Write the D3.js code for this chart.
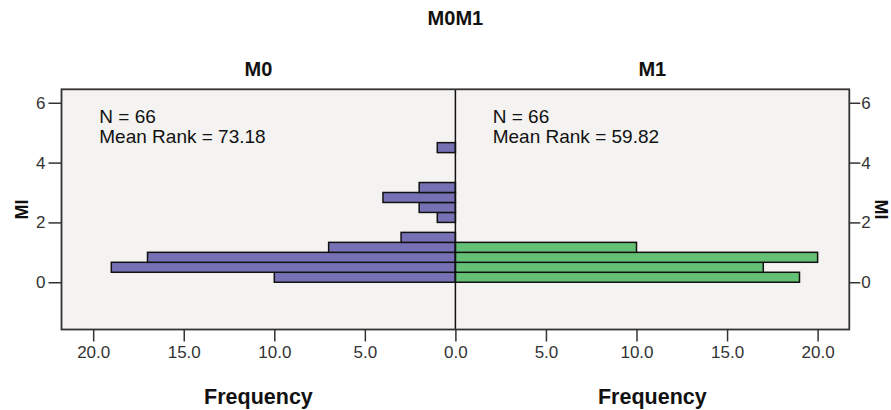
<!DOCTYPE html>
<html>
<head>
<meta charset="utf-8">
<script src="https://cdn.jsdelivr.net/npm/d3@7"></script>
<style>
  html, body { margin: 0; padding: 0; background: #fff; }
  svg { display: block; font-family: "Liberation Sans", Arial, sans-serif; }
</style>
</head>
<body>
<svg id="chart" width="891" height="410"></svg>
<script>
// ---- data ----
const chartTitle = "M0M1";
const panelNames = ["M0", "M1"];
const binWidth = 1 / 3;
const binStarts = [0, 0.3333, 0.6667, 1, 1.3333, 1.6667, 2, 2.3333, 2.6667, 3, 3.3333, 3.6667, 4, 4.3333];
const countsM0 = [10, 19, 17, 7, 3, 0, 1, 2, 4, 2, 0, 0, 0, 1];
const countsM1 = [19, 17, 20, 10, 0, 0, 0, 0, 0, 0, 0, 0, 0, 0];
const nValues = [66, 66];
const meanRanks = ["73.18", "59.82"];
const yTicks = [0, 2, 4, 6];
const xTicks = [0, 5, 10, 15, 20];
const yDomain = [-1.58, 6.45];
const xMax = 21.75;

// ---- layout ----
const L = 61.5, R = 849.3, T = 89.3, B = 329.5, C = (L + R) / 2;
const svg = d3.select("#chart");

const y = d3.scaleLinear().domain(yDomain).range([B, T]);
const xLeft = d3.scaleLinear().domain([0, xMax]).range([C, L]);
const xRight = d3.scaleLinear().domain([0, xMax]).range([C, R]);

// plot background
svg.append("rect").attr("x", L).attr("y", T).attr("width", R - L).attr("height", B - T)
  .attr("fill", "#f4f3f1");

const colors = ["#7670b4", "#63c074"];
const series = [
  { counts: countsM0, x: xLeft, color: colors[0] },
  { counts: countsM1, x: xRight, color: colors[1] }
];

series.forEach(s => {
  const data = binStarts.map((b, i) => ({ b, c: s.counts[i] })).filter(d => d.c > 0);
  svg.append("g").selectAll("rect").data(data).join("rect")
    .attr("x", d => Math.min(s.x(0), s.x(d.c)))
    .attr("width", d => Math.abs(s.x(d.c) - s.x(0)))
    .attr("y", d => y(d.b + binWidth))
    .attr("height", d => y(d.b) - y(d.b + binWidth))
    .attr("fill", s.color)
    .attr("stroke", "#111")
    .attr("stroke-width", 1.5);
});

// center line
svg.append("line").attr("x1", C).attr("x2", C).attr("y1", T).attr("y2", B)
  .attr("stroke", "#111").attr("stroke-width", 1.5);

// frame
svg.append("rect").attr("x", L).attr("y", T).attr("width", R - L).attr("height", B - T)
  .attr("fill", "none").attr("stroke", "#333").attr("stroke-width", 1.8);

// axes
function styleAxis(g) {
  g.select(".domain").remove();
  g.selectAll(".tick line").attr("stroke", "#333").attr("stroke-width", 1.5);
  g.selectAll(".tick text").attr("fill", "#333").style("font-size", "17px");
}

svg.append("g").attr("transform", `translate(${L},0)`)
  .call(d3.axisLeft(y).tickValues(yTicks).tickSize(13).tickPadding(3).tickFormat(d3.format("d")))
  .call(styleAxis);

svg.append("g").attr("transform", `translate(${R},0)`)
  .call(d3.axisRight(y).tickValues(yTicks).tickSize(11).tickPadding(1).tickFormat(d3.format("d")))
  .call(styleAxis);

svg.append("g").attr("transform", `translate(0,${B})`)
  .call(d3.axisBottom(xLeft).tickValues(xTicks).tickSize(12).tickPadding(4).tickFormat(d3.format(".1f")))
  .call(styleAxis);

svg.append("g").attr("transform", `translate(0,${B})`)
  .call(d3.axisBottom(xRight).tickValues(xTicks.filter(v => v > 0)).tickSize(12).tickPadding(4).tickFormat(d3.format(".1f")))
  .call(styleAxis);

// titles
svg.append("text").attr("x", C).attr("y", 25).attr("text-anchor", "middle")
  .style("font-size", "20px").style("font-weight", "bold").attr("fill", "#111").text(chartTitle);

const panelCenters = [(L + C) / 2, (C + R) / 2];
panelNames.forEach((n, i) => {
  svg.append("text").attr("x", panelCenters[i]).attr("y", 76).attr("text-anchor", "middle")
    .style("font-size", "20px").style("font-weight", "bold").attr("fill", "#111").text(n);
  svg.append("text").attr("x", panelCenters[i]).attr("y", 404).attr("text-anchor", "middle")
    .style("font-size", "21.5px").style("font-weight", "bold").attr("fill", "#111").text("Frequency");
});

// annotations
const annX = [99.3, 492.7];
annX.forEach((ax, i) => {
  svg.append("text").attr("x", ax).attr("y", 122.7)
    .style("font-size", "19px").attr("fill", "#111").text(`N = ${nValues[i]}`);
  svg.append("text").attr("x", ax).attr("y", 143.3)
    .style("font-size", "19px").attr("fill", "#111").text(`Mean Rank = ${meanRanks[i]}`);
});

// y axis titles
const midY = (T + B) / 2;
svg.append("text").attr("transform", `translate(28,${midY}) rotate(-90)`).attr("text-anchor", "middle")
  .style("font-size", "18px").style("font-weight", "bold").attr("fill", "#111").text("MI");
svg.append("text").attr("transform", `translate(875,${midY}) rotate(90)`).attr("text-anchor", "middle")
  .style("font-size", "18px").style("font-weight", "bold").attr("fill", "#111").text("MI");
</script>
</body>
</html>
